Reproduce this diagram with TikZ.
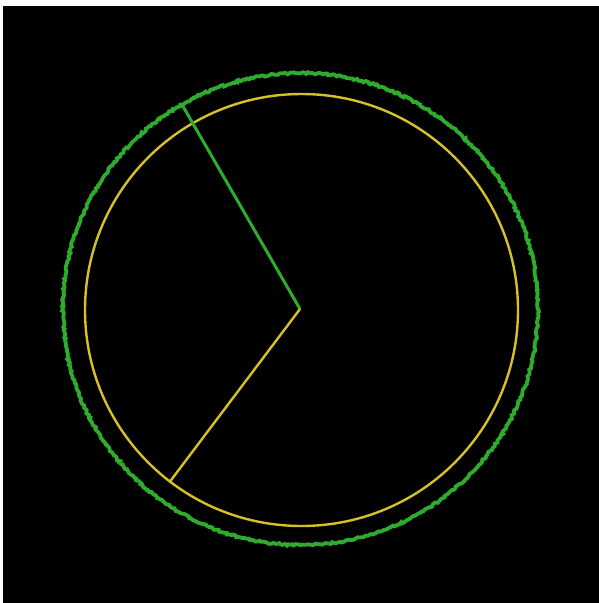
\documentclass[tikz,border=0pt]{standalone}
\usetikzlibrary{decorations.pathmorphing}
\definecolor{ringgreen}{RGB}{46,172,46}
\definecolor{ringyellow}{RGB}{214,194,38}
\begin{document}
\begin{tikzpicture}[x=1pt,y=-1pt,
  greenline/.style={draw=ringgreen,line width=3.8pt},
  yellowline/.style={draw=ringyellow,line width=2.4pt},
  jag/.style={decorate,decoration={random steps,segment length=2pt,amplitude=1pt}}]
\useasboundingbox (0,0) rectangle (599,603);
\fill[white] (0,0) rectangle (599,603);
\fill[black] (3,6) rectangle (599,603);
\coordinate (c) at (300,309);
\path (c) ++(240:236) coordinate (gtip);
\path (c) ++(127:217) coordinate (ytip);
\draw[greenline,jag] (300.5,309) ellipse [x radius=237.5,y radius=236];
\draw[yellowline] (301.5,310) ellipse [x radius=216.5,y radius=216];
\draw[greenline,line width=3pt] (c) -- (gtip);
\draw[yellowline] (c) -- (ytip);
\end{tikzpicture}
\end{document}
